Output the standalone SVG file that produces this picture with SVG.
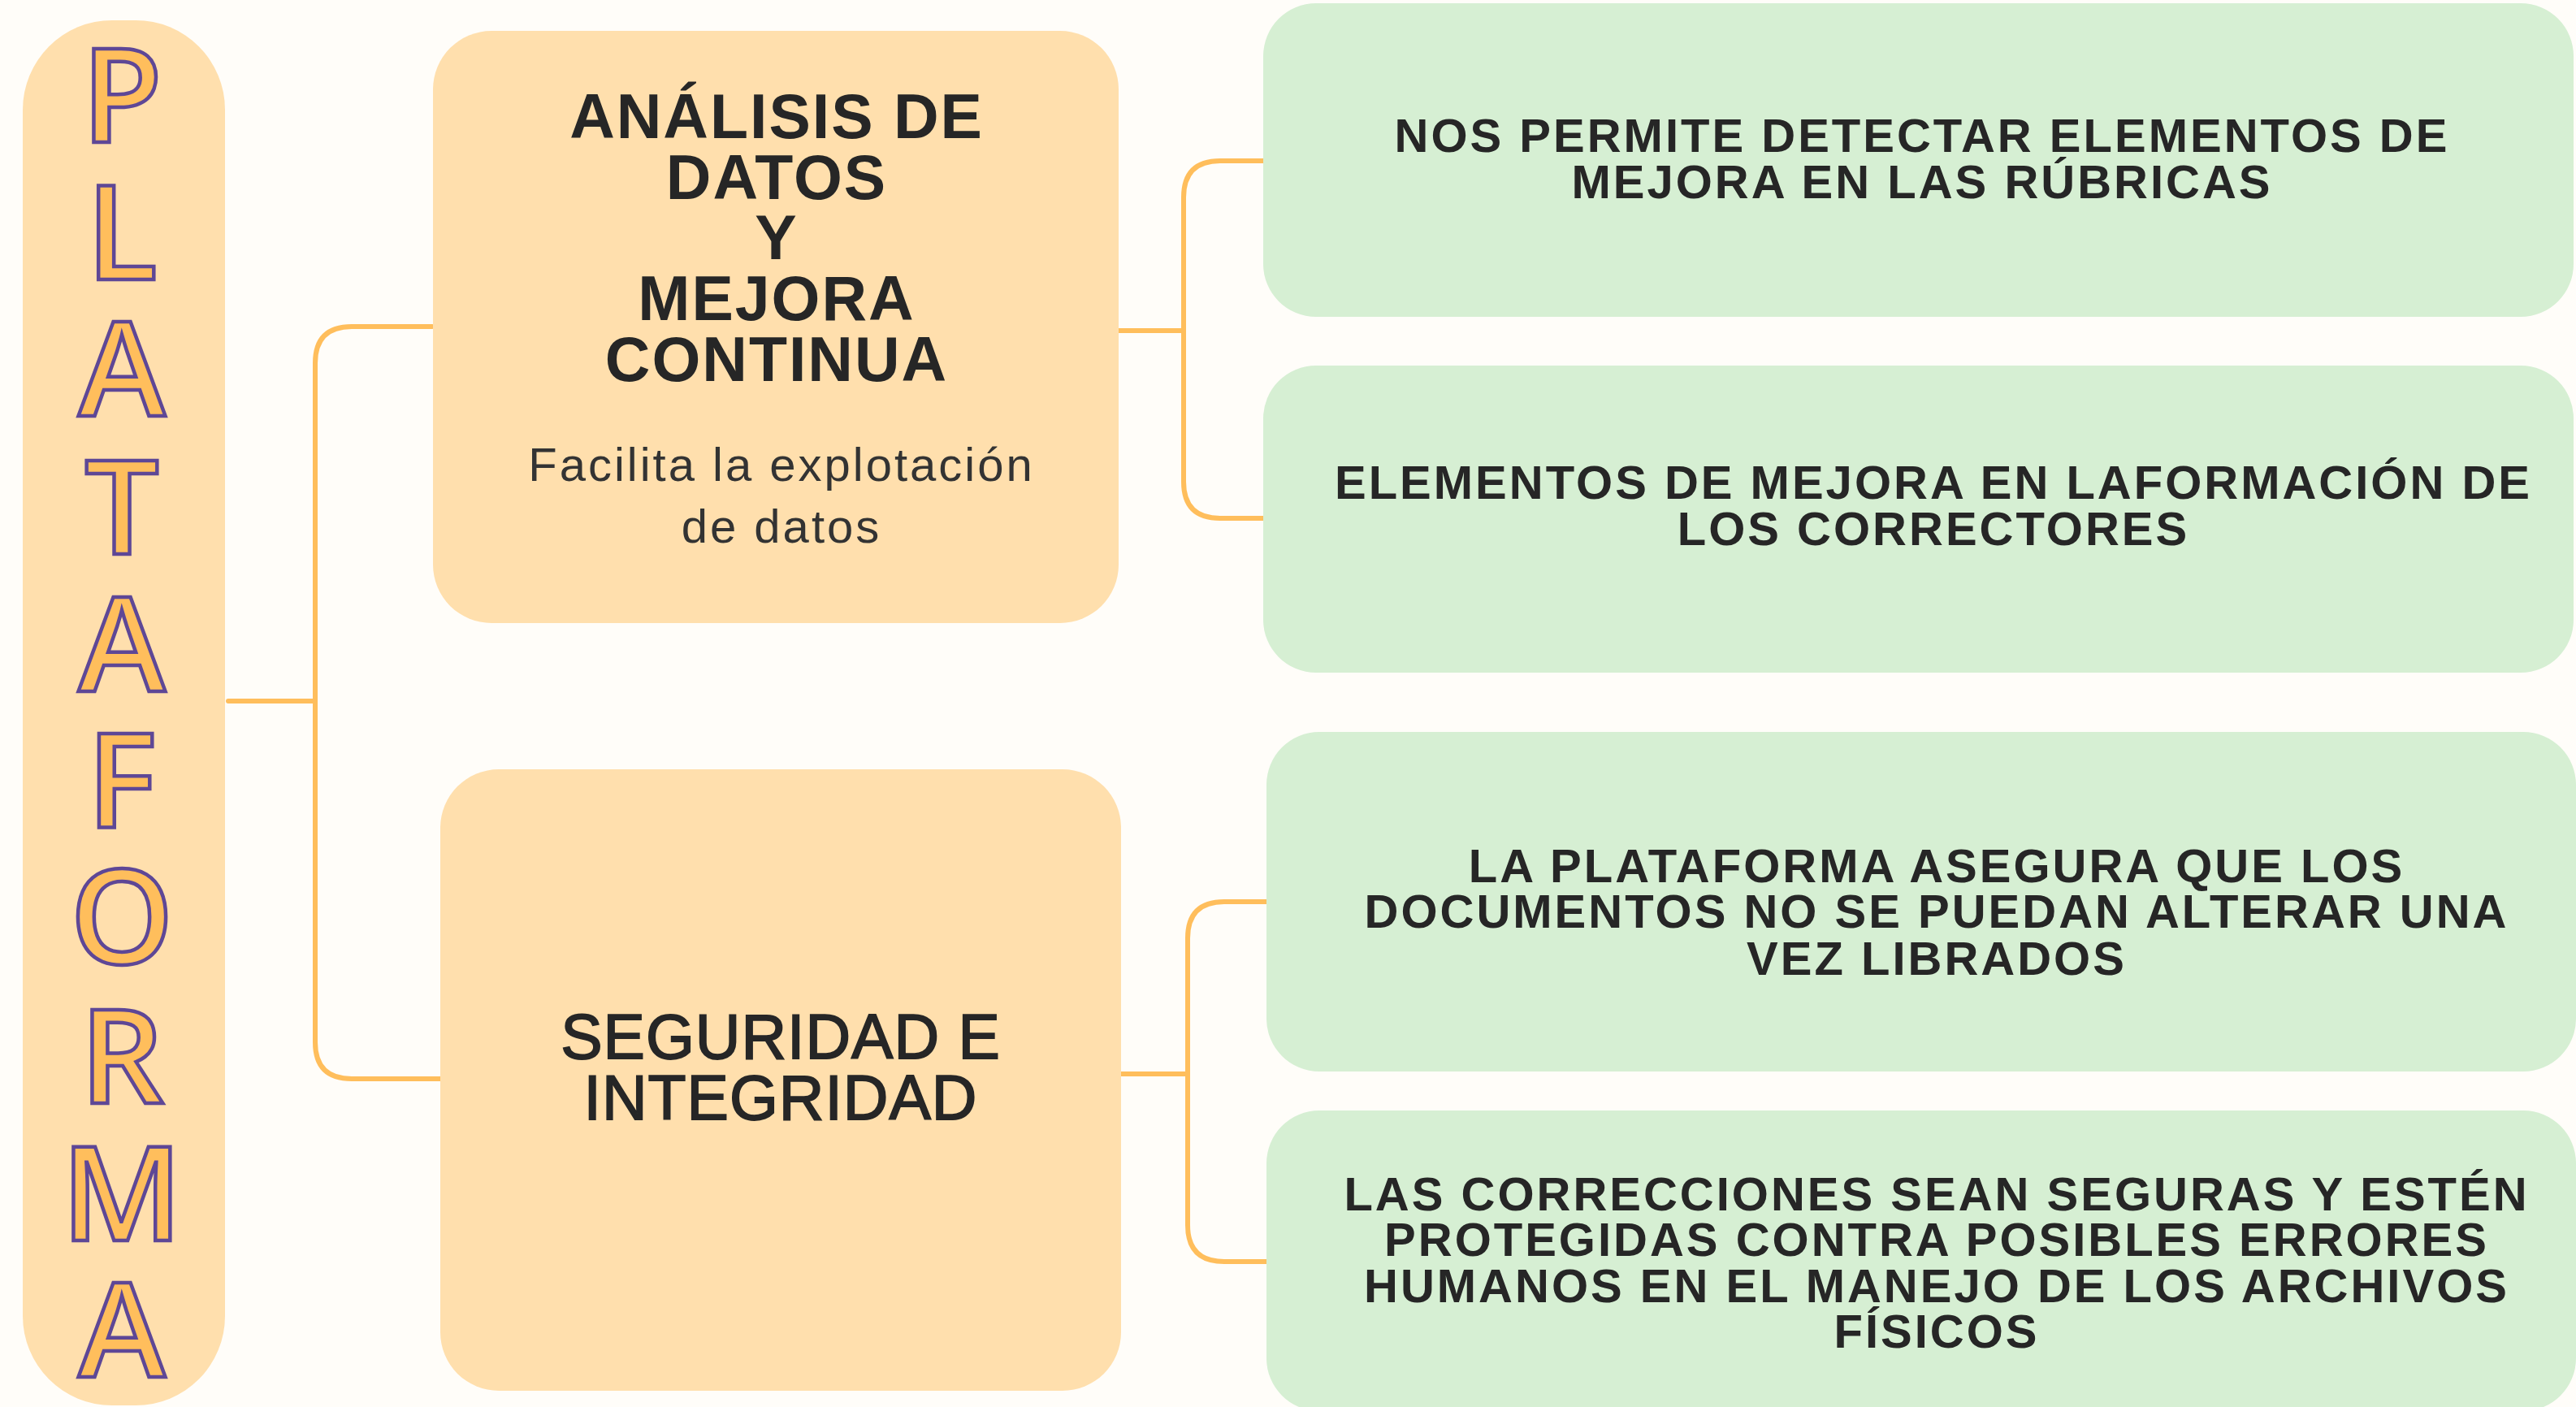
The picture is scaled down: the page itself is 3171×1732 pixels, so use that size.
<svg xmlns="http://www.w3.org/2000/svg" width="3171" height="1732" viewBox="0 0 3171 1732">
<style>
.bg{fill:#FFFDF9}
.org{fill:#FFDFAD}
.grn{fill:#D6EFD3}
.conn{fill:none;stroke:#FFBE5C;stroke-width:6;stroke-linecap:round}
.big{font-family:"Open Sans","Liberation Sans",Arial,sans-serif;font-size:162px;font-weight:600;fill:#FFBE5C;stroke:#5E4796;stroke-width:4.5;text-anchor:middle}
.t1{font-family:"Liberation Sans",Arial,sans-serif;font-size:77px;font-weight:bold;fill:#262626;text-anchor:middle;letter-spacing:2px}
.t2{font-family:"Liberation Sans",Arial,sans-serif;font-size:77px;font-weight:normal;fill:#262626;stroke:#262626;stroke-width:1.8;text-anchor:middle;letter-spacing:1px}
.sub{font-family:"Liberation Sans",Arial,sans-serif;font-size:58px;fill:#333333;text-anchor:middle;letter-spacing:3px}
.g{font-family:"Liberation Sans",Arial,sans-serif;font-size:58px;font-weight:bold;fill:#262626;text-anchor:middle;letter-spacing:3px}
</style>
<rect class="bg" x="0" y="0" width="3171" height="1732"/>
<g id="connectors">
<path class="conn" d="M281,863 H388"/>
<path class="conn" d="M532,402 H433 Q388,402 388,447 V1283 Q388,1328 433,1328 H543"/>
<path class="conn" d="M1377,407 H1457"/>
<path class="conn" d="M1557,198 H1502 Q1457,198 1457,243 V593 Q1457,638 1502,638 H1557"/>
<path class="conn" d="M1380,1322 H1462"/>
<path class="conn" d="M1561,1110 H1507 Q1462,1110 1462,1155 V1508 Q1462,1553 1507,1553 H1561"/>
</g>
<g id="plataforma">
<rect class="org" x="28" y="25" width="249" height="1705" rx="110" ry="110"/>
<text class="big"><tspan x="150" y="175">P</tspan><tspan x="150" y="344">L</tspan><tspan x="150" y="512">A</tspan><tspan x="150" y="682">T</tspan><tspan x="150" y="851">A</tspan><tspan x="150" y="1019">F</tspan><tspan x="150" y="1186">O</tspan><tspan x="150" y="1358">R</tspan><tspan x="150" y="1527">M</tspan><tspan x="150" y="1695">A</tspan></text>
</g>
<g id="analisis">
<rect class="org" x="533" y="38" width="844" height="729" rx="72" ry="72"/>
<text class="t1"><tspan x="956" y="170">ANÁLISIS DE</tspan><tspan x="956" y="245">DATOS</tspan><tspan x="956" y="319">Y</tspan><tspan x="956" y="394">MEJORA</tspan><tspan x="956" y="469">CONTINUA</tspan></text>
<text class="sub"><tspan x="962" y="592">Facilita la explotación</tspan><tspan x="962" y="668">de datos</tspan></text>
</g>
<g id="seguridad">
<rect class="org" x="542" y="947" width="838" height="765" rx="72" ry="72"/>
<text class="t2"><tspan x="961" y="1303">SEGURIDAD E</tspan><tspan x="961" y="1378">INTEGRIDAD</tspan></text>
</g>
<g id="rubricas">
<rect class="grn" x="1555" y="4" width="1613" height="386" rx="65" ry="65"/>
<text class="g"><tspan x="2366" y="187">NOS PERMITE DETECTAR ELEMENTOS DE</tspan><tspan x="2366" y="244">MEJORA EN LAS RÚBRICAS</tspan></text>
</g>
<g id="correctores">
<rect class="grn" x="1555" y="450" width="1613" height="378" rx="65" ry="65"/>
<text class="g"><tspan x="2380" y="614">ELEMENTOS DE MEJORA EN LAFORMACIÓN DE</tspan><tspan x="2380" y="671">LOS CORRECTORES</tspan></text>
</g>
<g id="documentos">
<rect class="grn" x="1559" y="901" width="1612" height="418" rx="65" ry="65"/>
<text class="g"><tspan x="2384" y="1086">LA PLATAFORMA ASEGURA QUE LOS</tspan><tspan x="2384" y="1142">DOCUMENTOS NO SE PUEDAN ALTERAR UNA</tspan><tspan x="2384" y="1200">VEZ LIBRADOS</tspan></text>
</g>
<g id="correcciones">
<rect class="grn" x="1559" y="1367" width="1612" height="370" rx="65" ry="65"/>
<text class="g"><tspan x="2384" y="1490">LAS CORRECCIONES SEAN SEGURAS Y ESTÉN</tspan><tspan x="2384" y="1546">PROTEGIDAS CONTRA POSIBLES ERRORES</tspan><tspan x="2384" y="1603">HUMANOS EN EL MANEJO DE LOS ARCHIVOS</tspan><tspan x="2384" y="1659">FÍSICOS</tspan></text>
</g>
</svg>
